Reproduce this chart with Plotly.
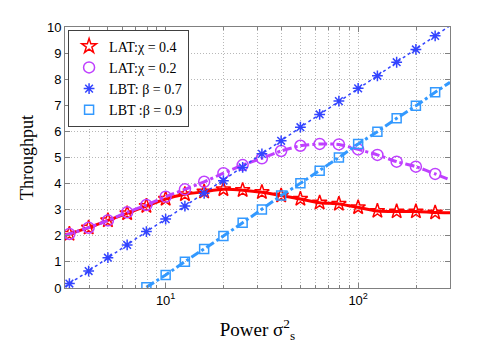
import numpy as np
import plotly.graph_objects as go

# Marker positions: 5..24 dB of power, i.e. 10^0.5 .. 10^2.4
power_db = list(range(5, 25))
power = [10 ** (d / 10) for d in power_db]

lat_04 = [2.07, 2.31, 2.59, 2.86, 3.14, 3.41, 3.59, 3.69, 3.78, 3.75,
          3.67, 3.54, 3.41, 3.27, 3.22, 3.09, 2.95, 2.93, 2.93, 2.89]
lat_02 = [2.07, 2.31, 2.59, 2.90, 3.18, 3.50, 3.78, 4.07, 4.40, 4.71,
          4.97, 5.25, 5.45, 5.52, 5.50, 5.31, 5.10, 4.84, 4.65, 4.37]
lbt_07 = [0.17, 0.65, 1.16, 1.65, 2.16, 2.64, 3.14, 3.63, 4.11, 4.62,
          5.14, 5.64, 6.16, 6.65, 7.16, 7.65, 8.13, 8.65, 9.14, 9.66]
lbt_09_db = list(range(9, 25))
lbt_09 = [0.03, 0.50, 1.01, 1.49, 1.99, 2.50, 3.01, 3.54, 4.01, 4.49,
          5.00, 5.52, 5.99, 6.50, 6.98, 7.50]

# values where the lines meet the plot edges (power 3 and 300)
edge_lo = {'lat_04': 2.02, 'lat_02': 2.02, 'lbt_07': 0.05}
edge_hi = {'lat_04': 2.88, 'lat_02': 4.14, 'lbt_07': 10.05, 'lbt_09': 7.88}

names = ['LAT:\u03c7 = 0.4', 'LAT:\u03c7 = 0.2', 'LBT: \u03b2 = 0.7', 'LBT :\u03b2 = 0.9']

style = {
    'lat_04': dict(color='#ff0000', dash='solid', width=3, symbol='star-open', size=11, shape='spline'),
    'lat_02': dict(color='#bf40ff', dash='dashdot', width=3, symbol='circle-open', size=11, shape='spline'),
    'lbt_07': dict(color='#3344ff', dash='dot', width=1.5, symbol='asterisk-open', size=9, shape='linear'),
    'lbt_09': dict(color='#3399ff', dash='dashdot', width=3, symbol='square-open', size=9, shape='linear'),
}

fig = go.Figure()

series = [
    ('lat_04', power, lat_04),
    ('lat_02', power, lat_02),
    ('lbt_07', power, lbt_07),
    ('lbt_09', [10 ** (d / 10) for d in lbt_09_db], lbt_09),
]

for (key, xs, ys), name in zip(series, names):
    s = style[key]
    lx, ly = list(xs), list(ys)
    if key in edge_lo:
        lx, ly = [3] + lx, [edge_lo[key]] + ly
    lx, ly = lx + [300], ly + [edge_hi[key]]
    fig.add_trace(go.Scatter(x=lx, y=ly, mode='lines', showlegend=False,
                             line=dict(color=s['color'], dash=s['dash'], width=s['width'],
                                       shape=s['shape'], smoothing=0.6)))
    fig.add_trace(go.Scatter(x=xs, y=ys, mode='markers', name=name,
                             marker=dict(symbol=s['symbol'], size=s['size'], color=s['color'],
                                         line=dict(color=s['color'], width=1.5))))

minor_vals = [3, 4, 5, 6, 7, 8, 9, 20, 30, 40, 50, 60, 70, 80, 90, 200, 300]
grid_dash = '1px,2px'

axis_common = dict(showline=True, linecolor='#808080', linewidth=1, mirror='ticks',
                   ticks='inside', ticklen=5, tickcolor='#808080',
                   showgrid=True, gridcolor='#b8b8b8', griddash=grid_dash, gridwidth=1,
                   zeroline=False, tickfont=dict(family='Liberation Sans', size=13, color='black'))

# the page body has an 8px default margin, so the figure is sized to fit inside it
fig.update_layout(
    width=490, height=350,
    margin=dict(l=57, r=48, t=19, b=70),
    paper_bgcolor='white', plot_bgcolor='white',
    xaxis=dict(type='log', range=[np.log10(3), np.log10(300)],
               tickvals=[10, 100], ticktext=['10<sup>1</sup>', '10<sup>2</sup>'],
               minor=dict(tickvals=minor_vals, ticks='inside', ticklen=3, tickcolor='#808080',
                          showgrid=True, gridcolor='#b8b8b8', griddash=grid_dash, gridwidth=1),
               title=dict(text='Power \u03c3<sup>2</sup><sub>s</sub>',
                          font=dict(family='Liberation Serif', size=19, color='black'),
                          standoff=16),
               **axis_common),
    yaxis=dict(range=[0, 10], dtick=1,
               title=dict(text='Throughput',
                          font=dict(family='Liberation Serif', size=18, color='black'),
                          standoff=8),
               **axis_common),
    legend=dict(x=0.008, y=0.99, xanchor='left', yanchor='top',
                bgcolor='white', bordercolor='#404040', borderwidth=1,
                font=dict(family='Liberation Serif', size=14, color='black'),
                itemwidth=30, tracegroupgap=0),
)

fig.write_html("out.html")
